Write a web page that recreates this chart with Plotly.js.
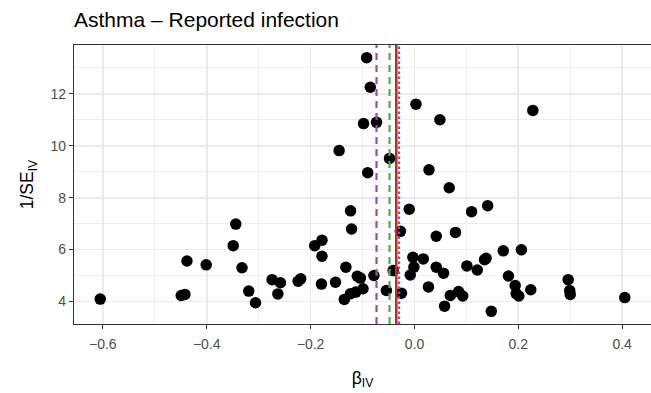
<!DOCTYPE html>
<html>
<head>
<meta charset="utf-8">
<script src="https://cdn.plot.ly/plotly-3.0.1.min.js"></script>
<style>
html,body{margin:0;padding:0;background:#fff;}
#chart{width:651px;height:393px;}
</style>
</head>
<body>
<div id="chart"></div>
<script>
// Data
var betaIV = [-0.605,-0.449,-0.442,-0.438,-0.401,-0.344,-0.349,-0.332,-0.319,-0.306,
  -0.274,-0.258,-0.263,-0.224,-0.219,-0.192,-0.178,-0.178,-0.179,-0.152,
  -0.145,-0.132,-0.135,-0.123,-0.123,-0.121,-0.113,-0.110,-0.104,-0.099,
  -0.098,-0.092,-0.090,-0.085,-0.078,-0.073,-0.054,-0.048,-0.041,-0.027,
  -0.025,-0.010,-0.008,-0.003,-0.001,0.003,0.017,0.027,0.028,0.042,
  0.042,0.049,0.056,0.058,0.067,0.069,0.079,0.085,0.093,0.101,
  0.110,0.121,0.135,0.138,0.141,0.148,0.171,0.181,0.194,0.196,
  0.201,0.206,0.224,0.228,0.296,0.299,0.300,0.405];
var invSE = [4.09,4.23,4.27,5.56,5.41,6.98,6.15,5.30,4.40,3.95,
  4.84,4.72,4.29,4.78,4.87,6.15,6.36,5.74,4.67,4.74,
  9.81,5.32,4.08,4.30,7.49,6.79,4.36,4.97,4.90,4.49,
  10.85,13.39,8.96,12.25,5.00,10.90,4.42,9.51,5.19,6.70,
  4.32,7.55,5.02,5.70,5.32,11.60,5.64,4.56,9.07,6.51,
  5.32,11.00,5.09,3.82,8.38,4.23,6.66,4.38,4.21,5.37,
  7.46,5.21,5.61,5.66,7.69,3.62,5.95,4.98,4.61,4.30,
  4.21,5.99,4.45,11.36,4.84,4.42,4.27,4.15];

// Estimate lines (vertical)
var estNames  = ["purple", "green", "red", "blue"];
var estValues = [-0.073, -0.048, -0.035, -0.0295];
var estColors = ["#984EA3", "#4DAF4A", "#E41A1C", "#377EB8"];
var estDashes = ["7px,5px", "7px,5px", "solid", "2.5px,2.5px"];
var estWidths = [2.2, 2.2, 2.6, 2.2];

var xTickVals = [-0.6, -0.4, -0.2, 0.0, 0.2, 0.4];
var xTickText = ["\u22120.6", "\u22120.4", "\u22120.2", "0.0", "0.2", "0.4"];
var yTickVals = [4, 6, 8, 10, 12];
var yTickText = ["4", "6", "8", "10", "12"];

var titleText = "Asthma \u2013 Reported infection";
var xTitle = "\u03b2<sub>IV</sub>";
var yTitle = "1/SE<sub>IV</sub>";

// expand ranges like ggplot (5%)
function expRange(arr) {
  var mn = Math.min.apply(null, arr), mx = Math.max.apply(null, arr);
  var d = (mx - mn) * 0.05;
  return [mn - d, mx + d];
}

var traces = [{
  type: 'scatter', mode: 'markers',
  x: betaIV, y: invSE,
  marker: {color: '#000000', size: 11.5, line: {width: 0}},
  hoverinfo: 'skip', showlegend: false
}];

var shapes = estValues.map(function (v, i) {
  return {
    type: 'line', layer: 'above', xref: 'x', yref: 'paper',
    x0: v, x1: v, y0: 0, y1: 1,
    line: {color: estColors[i], width: estWidths[i], dash: estDashes[i]}
  };
});

var gridC = '#EBEBEB';
var layout = {
  width: 651, height: 393,
  margin: {l: 74, r: 0, t: 45, b: 69, pad: 0},
  paper_bgcolor: '#ffffff', plot_bgcolor: '#ffffff',
  font: {family: '"Liberation Sans", Arial, sans-serif', color: '#4D4D4D'},
  title: {
    text: titleText, xref: 'container', yref: 'container',
    x: 74 / 651, xanchor: 'left', y: 1 - 20 / 393, yanchor: 'middle',
    font: {size: 21, color: '#000000'}
  },
  xaxis: {
    range: expRange(betaIV),
    tickmode: 'array', tickvals: xTickVals, ticktext: xTickText,
    ticks: 'outside', ticklen: 4, tickwidth: 1.1, tickcolor: '#333333',
    ticklabelstandoff: 3,
    tickfont: {size: 14, color: '#4D4D4D'},
    showgrid: true, gridcolor: gridC, gridwidth: 1.8,
    minor: {dtick: 0.2, tick0: -0.5, showgrid: true, gridcolor: gridC, gridwidth: 0.9, ticks: ''},
    zeroline: false,
    showline: true, mirror: true, linecolor: '#333333', linewidth: 1.1,
    title: {text: xTitle, font: {size: 17.5, color: '#000000'}, standoff: 20}
  },
  yaxis: {
    range: expRange(invSE),
    tickmode: 'array', tickvals: yTickVals, ticktext: yTickText,
    ticks: 'outside', ticklen: 4, tickwidth: 1.1, tickcolor: '#333333',
    tickfont: {size: 14, color: '#4D4D4D'},
    showgrid: true, gridcolor: gridC, gridwidth: 1.8,
    minor: {dtick: 2, tick0: 3, showgrid: true, gridcolor: gridC, gridwidth: 0.9, ticks: ''},
    zeroline: false,
    showline: true, mirror: true, linecolor: '#333333', linewidth: 1.1,
    title: {text: yTitle, font: {size: 17.5, color: '#000000'}, standoff: 12}
  },
  shapes: shapes,
  showlegend: false
};

Plotly.newPlot('chart', traces, layout, {staticPlot: true, displayModeBar: false});
</script>
</body>
</html>
